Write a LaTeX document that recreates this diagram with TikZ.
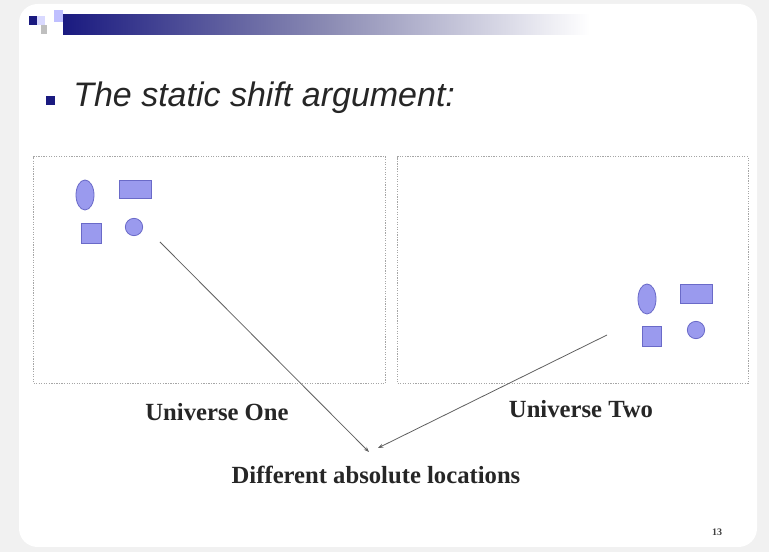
\documentclass[tikz,border=0pt]{standalone}
\usepackage{fontspec}
\setmainfont{Liberation Serif}
\newfontfamily\titlefont{Liberation Sans}
\usetikzlibrary{arrows.meta,shapes.geometric}
\definecolor{navy}{HTML}{1A1A80}
\definecolor{barmid}{HTML}{8C8CB4}
\definecolor{shapefill}{HTML}{9A9AEE}
\definecolor{shapeedge}{HTML}{6A6AC8}
\definecolor{bgray}{HTML}{F1F1F1}
\tikzset{
  blob/.style={draw=shapeedge, fill=shapefill, line width=0.6pt, inner sep=0pt},
  ellblob/.style={blob, ellipse, minimum width=13.5pt, minimum height=22.5pt},
  rectblob/.style={blob, rectangle, minimum width=24pt, minimum height=14pt},
  sqblob/.style={blob, rectangle, minimum width=14.5pt, minimum height=14.5pt},
  circblob/.style={blob, circle, minimum size=13pt},
  universe/.style={draw=gray!70, densely dotted, line width=0.9pt, fill=white},
  caption/.style={font=\bfseries\fontsize{18.5}{21}\selectfont, text=black!85},
  pointer/.style={draw=gray!75!black, line width=0.6pt, -{Stealth[length=4pt,width=3pt]}}
}
\begin{document}
\begin{tikzpicture}[x=0.75pt,y=-0.75pt]
\useasboundingbox (0,0) rectangle (769,552);
\fill[bgray] (0,0) rectangle (769,552);
\fill[white, rounded corners=14pt] (19,4) rectangle (757,547);
% header bar
\shade[left color=navy, right color=barmid] (63,15) rectangle (330,35);
\shade[left color=barmid, right color=white] (330,15) rectangle (590,35);
\fill[navy] (29,16) rectangle (37,25);
\fill[blue!15] (37,16) rectangle (45,25);
\fill[gray!50] (41,25) rectangle (47,34);
\fill[blue!25] (54,10) rectangle (63,22);
% title
\fill[navy] (46,96) rectangle (55,105);
\node[anchor=base west, inner sep=0pt, font=\titlefont\itshape\fontsize{25.5}{30}\selectfont, text=black!85] (title) at (73,107) {The static shift argument:};
% universes
\node[universe, minimum width=264pt, minimum height=170pt, anchor=north west] (u1) at (33,156) {};
\node[universe, minimum width=263pt, minimum height=170pt, anchor=north west] (u2) at (397,156) {};
% left shapes
\node[ellblob] (e1) at (85,195) {};
\node[rectblob] (r1) at (135,189.5) {};
\node[sqblob] (s1) at (91.5,233.5) {};
\node[circblob] (c1) at (134,227) {};
% right shapes
\node[ellblob] (e2) at (647,299) {};
\node[rectblob] (r2) at (696,294) {};
\node[sqblob] (s2) at (652,336.5) {};
\node[circblob] (c2) at (696,330) {};
% captions
\node[caption] (cap1) at (217,412) {Universe One};
\node[caption] (cap2) at (581,409) {Universe Two};
\node[caption] (cap3) at (376,475) {Different absolute locations};
\coordinate (t1) at (369,452);
\coordinate (t2) at (378,448);
\coordinate (s1a) at (160,242);
\coordinate (s2a) at (607,335);
\draw[pointer] (s1a) -- (t1);
\draw[pointer] (s2a) -- (t2);
\node[font=\bfseries\fontsize{7.5}{9}\selectfont, text=black!75] (pg) at (717,532) {13};
\end{tikzpicture}
\end{document}
